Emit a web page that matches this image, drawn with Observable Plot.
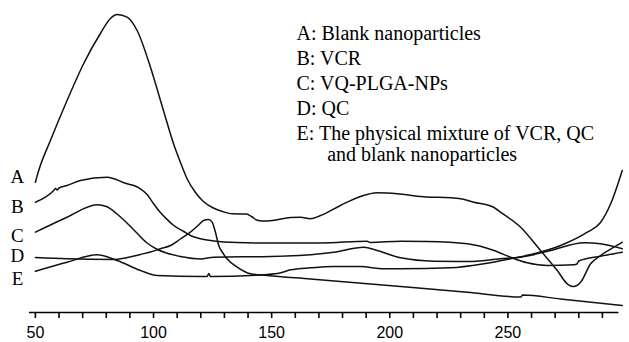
<!DOCTYPE html>
<html>
<head>
<meta charset="utf-8">
<script src="https://cdn.jsdelivr.net/npm/d3@7"></script>
<script src="https://cdn.jsdelivr.net/npm/@observablehq/plot@0.6"></script>
<style>
  html, body { margin: 0; padding: 0; background: #fff; }
  #chart { width: 629px; height: 342px; }
</style>
</head>
<body>
<div id="chart"></div>
<script>
// Temperature (°C) and heat-flow (arbitrary units) for each DSC thermogram
const tempA = [50, 51.4, 56.35, 63.4, 70.45, 77.5, 81.75, 84.6, 88.8, 93.05, 98.7, 104.2, 108.43, 111.4, 114.36, 117.75, 121.1, 124.9, 129.2, 133.4, 139.3, 141.5, 143.6, 146.1, 150.35, 158.0, 162.2, 166.4, 170.7, 179.1, 187.6, 194.7, 203.2, 211.6, 230.0, 235.6, 244.1, 246.9, 255.4, 263.8, 270.9, 275.1, 277.7, 280.8, 285.0, 289.2, 294.9, 298.4];
const valA  = [13.03, 14.2, 17.2, 21.2, 24.9, 27.9, 29.4, 29.8, 29.53, 28.2, 24.53, 20.2, 16.9, 15.0, 13.3, 12.0, 11.1, 10.5, 10.1, 9.87, 9.85, 9.6, 9.25, 9.15, 9.2, 9.5, 9.53, 9.37, 9.7, 10.7, 11.6, 11.97, 11.87, 11.63, 11.37, 11.03, 10.5, 10.03, 8.53, 6.2, 4.2, 2.87, 2.6, 3.03, 4.87, 5.7, 6.53, 7.03];

const tempB = [50, 57.75, 58.5, 59.2, 60.0, 63.4, 69.05, 80.35, 88.8, 91.6, 94.45, 97.3, 100.1, 102.9, 105.77, 108.56, 112.8, 115.6, 119.9, 125.5, 135.4, 149.5, 170.7, 190.4, 191.8, 204.55, 215.9, 232.8, 244.1, 251.1, 258.2, 266.7, 278.0, 279.2, 280.0, 289.2, 298.4];
const valB  = [11.03, 12.2, 12.4, 12.25, 12.45, 12.7, 13.2, 13.53, 12.87, 12.7, 12.37, 11.8, 10.85, 10.0, 9.3, 8.7, 8.1, 7.7, 7.37, 7.15, 7.0, 6.95, 6.95, 7.13, 7.0, 7.13, 7.1, 6.87, 6.2, 5.53, 4.97, 4.7, 4.77, 4.85, 5.15, 5.63, 6.03];

const tempC = [50, 63.4, 76.1, 80.06, 84.3, 88.53, 92.77, 97.0, 101.23, 105.47, 111.4, 119.9, 125.5, 149.5, 170.7, 176.3, 189.0, 194.7, 204.55, 218.7, 232.8, 246.9, 255.4, 268.1, 282.2, 289.2, 298.4];
const valC  = [8.03, 9.53, 10.77, 10.6, 9.9, 9.0, 8.0, 7.0, 6.35, 5.95, 5.6, 5.35, 5.53, 5.6, 5.87, 6.03, 6.53, 6.2, 5.47, 5.13, 5.1, 5.37, 5.53, 6.2, 6.97, 6.87, 6.37];

const tempD = [50, 63.4, 83.15, 88.1, 94.45, 98.7, 102.9, 107.2, 111.4, 115.6, 118.6, 121.2, 123.3, 124.8, 126.2, 127.6, 129.2, 131.1, 135.4, 141.0, 148.1, 166.4, 204.55, 232.8, 255.4, 256.3, 272.3, 298.4];
const valD  = [5.5, 5.37, 5.3, 5.45, 5.8, 6.05, 6.37, 6.7, 7.35, 8.03, 8.65, 9.2, 9.3, 9.03, 8.03, 6.7, 6.0, 5.37, 4.53, 3.87, 3.7, 3.35, 2.6, 2.03, 1.55, 1.75, 1.35, 0.7];

const tempE = [50, 63.4, 76.1, 84.6, 94.45, 101.5, 119.9, 122.7, 123.4, 124.1, 148.1, 154.3, 158.0, 166.4, 176.3, 187.6, 197.5, 204.55, 225.7, 239.8, 251.1, 261.0, 272.3, 283.6, 289.2, 293.5, 298.4];
const valE  = [4.13, 5.03, 5.77, 5.2, 4.2, 3.7, 3.6, 3.6, 3.9, 3.6, 3.8, 4.0, 4.27, 4.47, 4.6, 4.6, 4.37, 4.37, 4.47, 4.87, 5.37, 5.87, 6.7, 8.03, 9.0, 10.87, 14.2];

const seriesNames = ["A", "B", "C", "D", "E"];
const legendLines = [
  "A: Blank nanoparticles",
  "B: VCR",
  "C: VQ-PLGA-NPs",
  "D: QC",
  "E: The physical mixture of VCR, QC"
];
const legendContinuation = "and blank nanoparticles";
const xTicks = d3.range(50, 300, 10);
const xTickLabels = [50, 100, 150, 200, 250];

// Build table for the library
const temps = [tempA, tempB, tempC, tempD, tempE];
const vals = [valA, valB, valC, valD, valE];
const rows = seriesNames.flatMap((name, i) =>
  temps[i].map((t, j) => ({series: name, temp: t, value: vals[i][j]})));

// Label anchor positions next to each curve start (annotation)
const labelPos = [
  {name: "A", y: 13.53},
  {name: "B", y: 10.53},
  {name: "C", y: 7.7},
  {name: "D", y: 5.62},
  {name: "E", y: 3.4}
];

const chart = Plot.plot({
  width: 629,
  height: 342,
  marginTop: 12,
  marginBottom: 30,
  marginLeft: 29,
  marginRight: 7,
  style: {background: "#fff", color: "#000"},
  x: {domain: [47.5, 298.5]},
  y: {domain: [0, 30], axis: null},
  marks: [
    Plot.ruleY([0], {x1: 47.5, x2: 297, stroke: "#000", strokeWidth: 1.6}),
    Plot.axisX({
      ticks: xTicks,
      tickSize: 6,
      tickPadding: 8,
      strokeWidth: 1.6,
      stroke: "#000",
      fill: "#000",
      label: null,
      fontSize: 16,
      fontFamily: "Liberation Sans",
      tickFormat: d => xTickLabels.includes(d) ? String(d) : ""
    }),
    Plot.line(rows, {
      x: "temp", y: "value", z: "series",
      stroke: "#111", strokeWidth: 1.5,
      curve: "monotone-x"
    }),
    Plot.text(labelPos, {
      x: () => 42.4, y: "y", text: "name",
      fontSize: 19, fontFamily: "Liberation Serif", fill: "#000",
      textAnchor: "middle"
    }),
    Plot.text([legendLines.join("\n")], {
      frameAnchor: "top-left", dx: 267, dy: 10,
      lineAnchor: "top", lineHeight: 1.25,
      fontSize: 20, fontFamily: "Liberation Serif", fill: "#000",
      textAnchor: "start"
    }),
    Plot.text([legendContinuation], {
      frameAnchor: "top-left", dx: 297.7, dy: 134,
      lineAnchor: "top",
      fontSize: 20, fontFamily: "Liberation Serif", fill: "#000",
      textAnchor: "start"
    })
  ]
});
document.getElementById("chart").appendChild(chart);
</script>
</body>
</html>
